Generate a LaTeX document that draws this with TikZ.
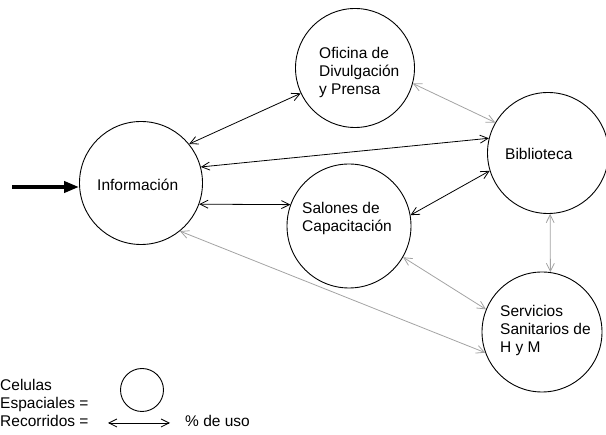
\documentclass[tikz,border=0pt]{standalone}
\usepackage{fontspec}
\setmainfont{Liberation Sans}
\usetikzlibrary{arrows.meta}
\begin{document}
\begin{tikzpicture}[x=1pt,y=-1pt,
  cell/.style={draw, circle, line width=0.9pt, inner sep=0pt},
  lbl/.style={font=\fontsize{15.5}{18}\selectfont, align=left, inner sep=0pt, anchor=west},
  lgd/.style={font=\fontsize{15.5}{18}\selectfont, inner sep=0pt, anchor=base west},
  tip/.tip={Straight Barb[length=8pt,width=8pt]},
  blk/.style={line width=0.8pt, tip-tip},
  gry/.style={blk, draw=black!36},
]
\useasboundingbox (0,0) rectangle (606,435);
% cells
\node[cell, minimum size=123pt] (info) at (141,183) {};
\node[cell, minimum size=119pt] (ofi) at (355,68) {};
\node[cell, minimum size=121pt] (bib) at (548,153) {};
\node[cell, minimum size=124pt] (sal) at (349,226) {};
\node[cell, minimum size=120pt] (ser) at (542,332) {};
% texts
\node[lbl] (tinfo) at (97,185) {Información};
\node[lbl] (tofi) at (319,72) {Oficina de\\Divulgación\\y Prensa};
\node[lbl] (tbib) at (505,154) {Biblioteca};
\node[lbl] (tsal) at (302,218) {Salones de\\Capacitación};
\node[lbl] (tser) at (500,330) {Servicios\\Sanitarios de\\H y M};
% connectors
\draw[blk] (info.39) -- (ofi.205);
\draw[blk] (info.15) -- (bib.166);
\draw[blk] (info.-20) -- (sal.160);
\draw[blk] (sal.10) -- (bib.197);
\draw[gry] (ofi.-15) -- (bib.150);
\draw[gry] (bib.-88) -- (ser.82);
\draw[gry] (sal.-30) -- (ser.158);
\draw[gry] (info.-51) -- (ser.200);
% input
\coordinate (in) at (12,187);
\draw[line width=4pt, -{Triangle[length=15pt,width=11pt]}] (in) -- (info.west |- in);
% legend
\node[lgd] (l1) at (0,391) {Celulas};
\node[lgd] (l2) at (0,409) {Espaciales =};
\node[lgd] (l3) at (0,427) {Recorridos =};
\node[cell, minimum size=43pt] (lc) at (142,390) {};
\coordinate (la) at (108,423);
\coordinate (lb) at (170,423);
\draw[blk] (la) -- (lb);
\node[lgd] (l4) at (185,427) {\% de uso};
\end{tikzpicture}
\end{document}
